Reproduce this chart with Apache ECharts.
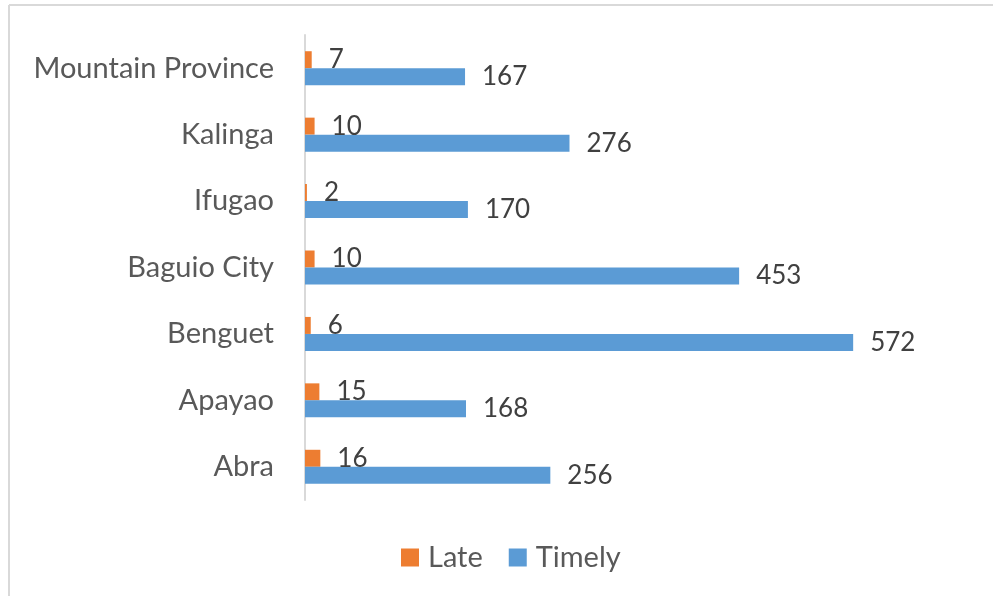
<!DOCTYPE html>
<html>
	<head>
		<meta charset="UTF-8">
		<title>Late / Timely</title>
		<style>
			html, body { margin: 0; padding: 0; background: #fff; }
			#chart { width: 993px; height: 596px; }
		</style>
	</head>
	<body>
		<div id="chart"></div>
		<script type="text/javascript" src="https://cdn.jsdelivr.net/npm/echarts@6/dist/echarts.min.js"></script>
		<script type="text/javascript">
			// bottom -> top
			var provinces = ['Abra', 'Apayao', 'Benguet', 'Baguio City', 'Ifugao', 'Kalinga', 'Mountain Province'];
			var late = [16, 15, 6, 10, 2, 10, 7];
			var timely = [256, 168, 572, 453, 170, 276, 167];

			var myChart = echarts.init(document.getElementById('chart'));

			var valLabel = {
				show: true,
				position: 'right',
				distance: 17,
				color: '#404040',
				fontFamily: 'Lato',
				fontSize: 26
			};

			option = {
				textStyle: { fontFamily: 'Lato' },
				animation: false,
				graphic: [
					{ type: 'line', shape: { x1: 9, y1: 5, x2: 993, y2: 5 }, style: { stroke: '#d9d9d9', lineWidth: 2 } },
					{ type: 'line', shape: { x1: 9, y1: 5, x2: 9, y2: 596 }, style: { stroke: '#d9d9d9', lineWidth: 2 } }
				],
				legend: {
					data: ['Late', 'Timely'],
					bottom: 19,
					left: 396,
					itemWidth: 18,
					itemHeight: 18,
					itemGap: 26,
					icon: 'rect',
					textStyle: { color: '#595959', fontSize: 29, fontFamily: 'Lato', padding: [0, 0, 0, 4] }
				},
				grid: {
					left: 305,
					right: 113,
					top: 35,
					bottom: 96
				},
				xAxis: {
					type: 'value',
					min: 0,
					max: 600,
					show: false
				},
				yAxis: {
					type: 'category',
					data: provinces,
					axisLine: { lineStyle: { color: '#d9d9d9', width: 2 } },
					axisTick: { show: false },
					axisLabel: { color: '#595959', fontSize: 29, fontFamily: 'Lato', margin: 31 }
				},
				series: [
					{
						name: 'Late',
						type: 'bar',
						barWidth: 17,
						barGap: '0%',
						itemStyle: { color: '#ED7D31' },
						label: valLabel,
						data: late
					},
					{
						name: 'Timely',
						type: 'bar',
						barWidth: 17,
						barGap: '0%',
						itemStyle: { color: '#5B9BD5' },
						label: valLabel,
						data: timely
					}
				]
			};

			myChart.setOption(option);
		</script>
	</body>
</html>
